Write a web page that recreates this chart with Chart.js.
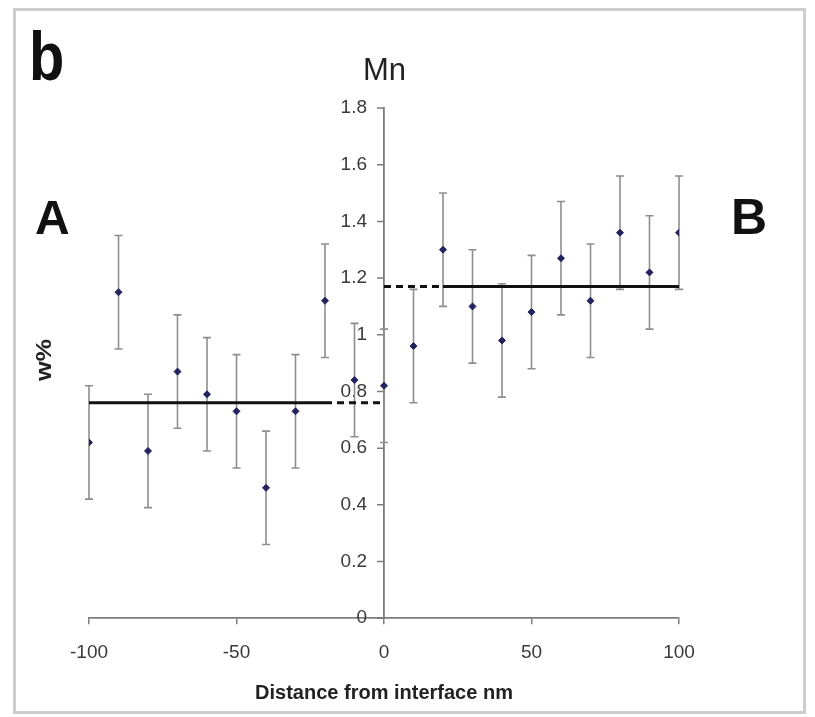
<!DOCTYPE html>
<html>
<head>
<meta charset="utf-8">
<script src="https://cdn.jsdelivr.net/npm/chart.js@4.4.1/dist/chart.umd.min.js"></script>
<style>
  body { margin: 0; background: #fff; }
  #wrap { position: relative; width: 815px; height: 717px; overflow: hidden; font-family: "Liberation Sans", Arial, sans-serif; }
  #frame { position: absolute; left: 13px; top: 8px; width: 787px; height: 700px; border: 3px solid #cdcdcd; }
  #chart { position: absolute; left: 0; top: 0; }
  .lbl { position: absolute; line-height: 1; color: #111; white-space: nowrap; }
</style>
</head>
<body>
<div id="wrap">
  <div id="frame"></div>
  <canvas id="chart" width="815" height="717"></canvas>
  <div class="lbl" style="left:29px;top:22px;font-size:68px;font-weight:bold;transform:scaleX(0.85);transform-origin:left top;">b</div>
  <div class="lbl" style="left:35px;top:194px;font-size:48px;font-weight:bold;">A</div>
  <div class="lbl" style="left:731px;top:192px;font-size:50px;font-weight:bold;">B</div>
  <div class="lbl" style="left:363px;top:54px;font-size:31px;color:#222;">Mn</div>
  <div class="lbl" style="left:44px;top:360px;font-size:22px;font-weight:bold;color:#222;transform:translate(-50%,-50%) rotate(-90deg) scaleX(1.15);">w%</div>
</div>
<script>
// Mn profile across the interface
const distances = [-100, -90, -80, -70, -60, -50, -40, -30, -20, -10, 0, 10, 20, 30, 40, 50, 60, 70, 80, 90, 100];
const mnValues = [0.62, 1.15, 0.59, 0.87, 0.79, 0.73, 0.46, 0.73, 1.12, 0.84, 0.82, 0.96, 1.30, 1.10, 0.98, 1.08, 1.27, 1.12, 1.36, 1.22, 1.36];
const mnErrors = [0.2, 0.2, 0.2, 0.2, 0.2, 0.2, 0.2, 0.2, 0.2, 0.2, 0.2, 0.2, 0.2, 0.2, 0.2, 0.2, 0.2, 0.2, 0.2, 0.2, 0.2];

// average levels on each side
const leftMean = 0.76;
const rightMean = 1.17;
const leftSolidX = [-100, -20];
const leftDashX = [-20, 0];
const rightDashX = [0, 20];
const rightSolidX = [20, 100];

const yTickLabels = ['0', '0.2', '0.4', '0.6', '0.8', '1', '1.2', '1.4', '1.6', '1.8'];

const axisGray = '#7d7d7d';
const tickText = '#3a3a3a';

// vertical error bars (and the y tick marks, which point left of the centre axis)
const errorBars = {
  id: 'errorBars',
  beforeDatasetsDraw(chart) {
    const { ctx } = chart;
    const x = chart.scales.x, y = chart.scales.y;
    ctx.save();
    ctx.strokeStyle = axisGray;
    ctx.lineWidth = 1.5;
    const x0 = x.getPixelForValue(0);
    ctx.beginPath();
    y.ticks.forEach(t => {
      const py = y.getPixelForValue(t.value);
      ctx.moveTo(x0 - 7, py);
      ctx.lineTo(x0, py);
    });
    ctx.stroke();

    ctx.strokeStyle = '#8e8e8e';
    ctx.lineWidth = 1.6;
    distances.forEach((d, i) => {
      const px = x.getPixelForValue(d);
      const top = y.getPixelForValue(mnValues[i] + mnErrors[i]);
      const bot = y.getPixelForValue(mnValues[i] - mnErrors[i]);
      ctx.beginPath();
      ctx.moveTo(px, top); ctx.lineTo(px, bot);
      ctx.moveTo(px - 4, top); ctx.lineTo(px + 4, top);
      ctx.moveTo(px - 4, bot); ctx.lineTo(px + 4, bot);
      ctx.stroke();
    });
    ctx.restore();
  }
};

// labels of an axis placed at x=0 sit right on the line; move them left of the tick marks
const yLabelShift = {
  id: 'yLabelShift',
  beforeDraw(chart) {
    const items = chart.scales.y.getLabelItems();
    if (items._shifted) return;
    items.forEach(it => { it.options.translation[0] -= 17; });
    items._shifted = true;
  }
};

function meanLine(xs, level, dashed) {
  return {
    data: xs.map(v => ({ x: v, y: level })),
    showLine: true,
    borderColor: '#111',
    borderWidth: 3,
    borderDash: dashed ? [7, 5] : [],
    pointRadius: 0,
    order: 1
  };
}

new Chart(document.getElementById('chart'), {
  type: 'scatter',
  data: {
    datasets: [
      {
        data: distances.map((d, i) => ({ x: d, y: mnValues[i] })),
        pointStyle: 'rectRot',
        pointRadius: 3.5,
        backgroundColor: '#23235f',
        borderColor: '#23235f',
        borderWidth: 1,
        order: 0
      },
      meanLine(leftSolidX, leftMean, false),
      meanLine(leftDashX, leftMean, true),
      meanLine(rightDashX, rightMean, true),
      meanLine(rightSolidX, rightMean, false)
    ]
  },
  options: {
    responsive: false,
    devicePixelRatio: 1,
    animation: false,
    layout: { padding: { left: 89, right: 136, top: 108, bottom: 12 } },
    plugins: { legend: { display: false }, tooltip: { enabled: false } },
    scales: {
      x: {
        type: 'linear',
        position: 'bottom',
        min: -100,
        max: 100,
        ticks: { stepSize: 50, padding: 17, color: tickText, font: { family: 'Liberation Sans', size: 19 } },
        grid: { drawOnChartArea: false, tickLength: 6, color: axisGray, lineWidth: 1.5 },
        border: { color: axisGray, width: 1.8 },
        title: {
          display: true,
          text: 'Distance from interface nm',
          color: '#222',
          font: { family: 'Liberation Sans', size: 20, weight: 'bold' },
          padding: { top: 0, bottom: 0 }
        }
      },
      y: {
        type: 'linear',
        position: { x: 0 },
        min: 0,
        max: 1.8,
        ticks: {
          stepSize: 0.2,
          color: tickText,
          font: { family: 'Liberation Sans', size: 19 },
          callback: (v, i) => yTickLabels[i]
        },
        grid: { display: false },
        border: { color: axisGray, width: 1.8 }
      }
    }
  },
  plugins: [errorBars, yLabelShift]
});
</script>
</body>
</html>
